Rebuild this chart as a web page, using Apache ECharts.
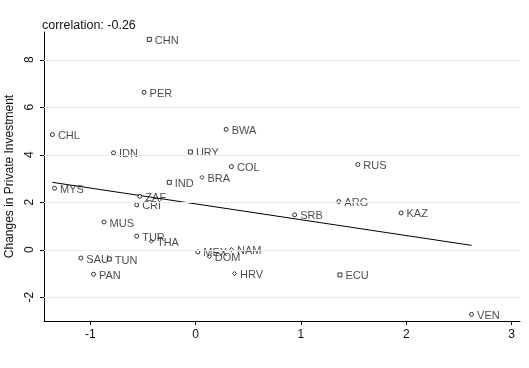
<!DOCTYPE html>
<html><head><meta charset="utf-8">
<script src="https://cdn.jsdelivr.net/npm/echarts@6/dist/echarts.min.js"></script>
<style>html,body{margin:0;padding:0;background:#fff}#c{width:529px;height:368px}</style>
</head><body><div id="c"></div>
<script>
const countries = ["CHN","PER","CHL","IDN","URY","BWA","COL","RUS","MYS","IND","BRA","ZAF","CRI","MUS","TUR","THA","SAU","TUN","PAN","MEX","DOM","NAM","HRV","ARG","SRB","KAZ","ECU","VEN"];
const xValues = [-0.44,-0.49,-1.36,-0.78,-0.05,0.29,0.34,1.54,-1.34,-0.25,0.06,-0.53,-0.56,-0.87,-0.56,-0.42,-1.09,-0.82,-0.97,0.02,0.13,0.34,0.37,1.36,0.94,1.95,1.37,2.62];
const yValues = [8.86,6.63,4.85,4.08,4.12,5.07,3.50,3.59,2.59,2.84,3.05,2.25,1.89,1.17,0.57,0.36,-0.35,-0.39,-1.03,-0.09,-0.29,0.01,-1.00,2.03,1.47,1.55,-1.06,-2.72];
const markerShapes = ["rect","circle","circle","circle","rect","circle","circle","circle","circle","rect","diamond","circle","circle","circle","circle","diamond","circle","rect","circle","circle","diamond","diamond","diamond","circle","circle","circle","rect","circle"];
const xTicks = [-1,0,1,2,3];
const yTicks = [-2,0,2,4,6,8];
const titleText = "correlation: -0.26";
const yTitle = "Changes in Private Investment";

// OLS fit from the data
const n = xValues.length;
const mx = xValues.reduce((a,b)=>a+b,0)/n, my = yValues.reduce((a,b)=>a+b,0)/n;
let sxy=0,sxx=0; for(let i=0;i<n;i++){sxy+=(xValues[i]-mx)*(yValues[i]-my);sxx+=(xValues[i]-mx)**2;}
const slope = sxy/sxx, icpt = my - slope*mx;
const xmin = Math.min(...xValues), xmax = Math.max(...xValues);

const FONT = "Liberation Sans, Arial, sans-serif";
const chart = echarts.init(document.getElementById('c'));
chart.setOption({
  animation:false,
  title:{text:titleText,left:37,top:14,textStyle:{fontFamily:FONT,fontSize:12.5,fontWeight:'normal',color:'#111'}},
  grid:{left:44,right:9,top:32,bottom:47,outerBoundsMode:'none',containLabel:false},
  xAxis:{type:'value',min:-1.44,max:3.08,
    axisLine:{onZero:false,lineStyle:{color:'#000',width:1}},
    axisTick:{customValues:xTicks,length:4,lineStyle:{color:'#000'}},
    axisLabel:{customValues:xTicks,fontFamily:FONT,fontSize:12,color:'#111',margin:8},
    splitLine:{show:false}},
  yAxis:{type:'value',min:-3,max:9.17,
    name:yTitle,nameLocation:'middle',nameGap:22,nameTextStyle:{fontFamily:FONT,fontSize:12,color:'#111'},
    axisLine:{show:true,onZero:false,lineStyle:{color:'#000',width:1}},
    axisTick:{show:true,customValues:yTicks,length:4,lineStyle:{color:'#000'}},
    axisLabel:{customValues:yTicks,rotate:90,fontFamily:FONT,fontSize:12,color:'#111',margin:8},
    splitLine:{show:false}},
  series:[
    {type:'scatter',
     data:xValues.map((x,i)=>({value:[x,yValues[i]],name:countries[i],symbol:markerShapes[i]})),
     symbolSize:4,
     itemStyle:{color:'#fff',borderColor:'#000',borderWidth:1},
     label:{show:true,position:'right',distance:3,offset:[0,1.5],formatter:p=>p.name,fontFamily:FONT,fontSize:11,color:'#1a1a1a'},
     markLine:{silent:true,symbol:'none',label:{show:false},
       lineStyle:{color:'#e6ebee',width:1,type:'solid'},
       data:yTicks.map(v=>({yAxis:v}))},
     z:3},
    {type:'line',data:[[xmin,icpt+slope*xmin],[xmax,icpt+slope*xmax]],
     symbol:'none',lineStyle:{color:'#000',width:1},z:2}
  ]
});
</script></body></html>
